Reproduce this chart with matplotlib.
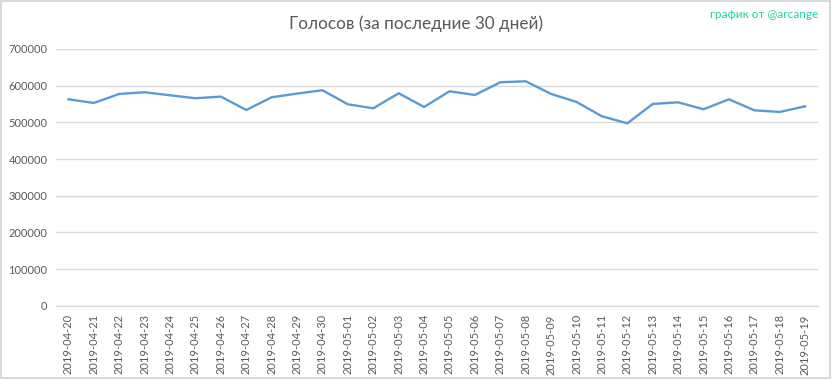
import matplotlib
matplotlib.use("Agg")
import matplotlib.pyplot as plt
from matplotlib.patches import Rectangle

dates = [
    "2019-04-20", "2019-04-21", "2019-04-22", "2019-04-23", "2019-04-24", "2019-04-25",
    "2019-04-26", "2019-04-27", "2019-04-28", "2019-04-29", "2019-04-30", "2019-05-01",
    "2019-05-02", "2019-05-03", "2019-05-04", "2019-05-05", "2019-05-06", "2019-05-07",
    "2019-05-08", "2019-05-09", "2019-05-10", "2019-05-11", "2019-05-12", "2019-05-13",
    "2019-05-14", "2019-05-15", "2019-05-16", "2019-05-17", "2019-05-18", "2019-05-19",
]
votes = [
    562700, 552700, 577300, 581800, 573600, 565500, 570000, 533600, 568200, 578200,
    587300, 549100, 538200, 579100, 541800, 584500, 574500, 609100, 611800, 577300,
    555500, 516400, 497300, 550000, 554500, 535500, 562700, 532700, 528200, 543600,
]
yticks = [0, 100000, 200000, 300000, 400000, 500000, 600000, 700000]

LINE = "#5b9bd5"
INK = "#595959"
GRID = "#d9d9d9"

plt.rcParams["font.family"] = ["Lato", "DejaVu Sans"]

fig = plt.figure(figsize=(8.32, 3.79), dpi=100, facecolor="white")
ax = fig.add_axes([0.067, 0.193, 0.916, 0.678])

x = list(range(len(dates)))
ax.plot(x, votes, color=LINE, linewidth=1.7, solid_joinstyle="round")

ax.set_xlim(-0.5, len(dates) - 0.5)
ax.set_ylim(0, 700000)
ax.set_yticks(yticks)
ax.set_yticklabels([str(v) for v in yticks], fontsize=8, color=INK)
ax.set_xticks(x)
ax.set_xticklabels(dates, rotation=90, fontsize=8, color=INK)
ax.tick_params(length=0)
ax.tick_params(axis="x", pad=6)
ax.tick_params(axis="y", pad=6)

ax.grid(axis="y", color=GRID, linewidth=1.0)
ax.set_axisbelow(True)
for side in ("top", "right", "left"):
    ax.spines[side].set_visible(False)
ax.spines["bottom"].set_color(GRID)

fig.text(0.5, 0.938, "Голосов (за последние 30 дней)", ha="center", va="center",
         fontsize=12.3, color=INK)
fig.text(0.983, 0.962, "график от @arcange", ha="right", va="center",
         fontsize=8.5, color="#1ed3a4")

fig.patches.append(Rectangle((0.001, 0.002), 0.997, 0.995, transform=fig.transFigure,
                             fill=False, edgecolor=GRID, linewidth=1.5))

fig.savefig("out.png", dpi=100, facecolor="white")
